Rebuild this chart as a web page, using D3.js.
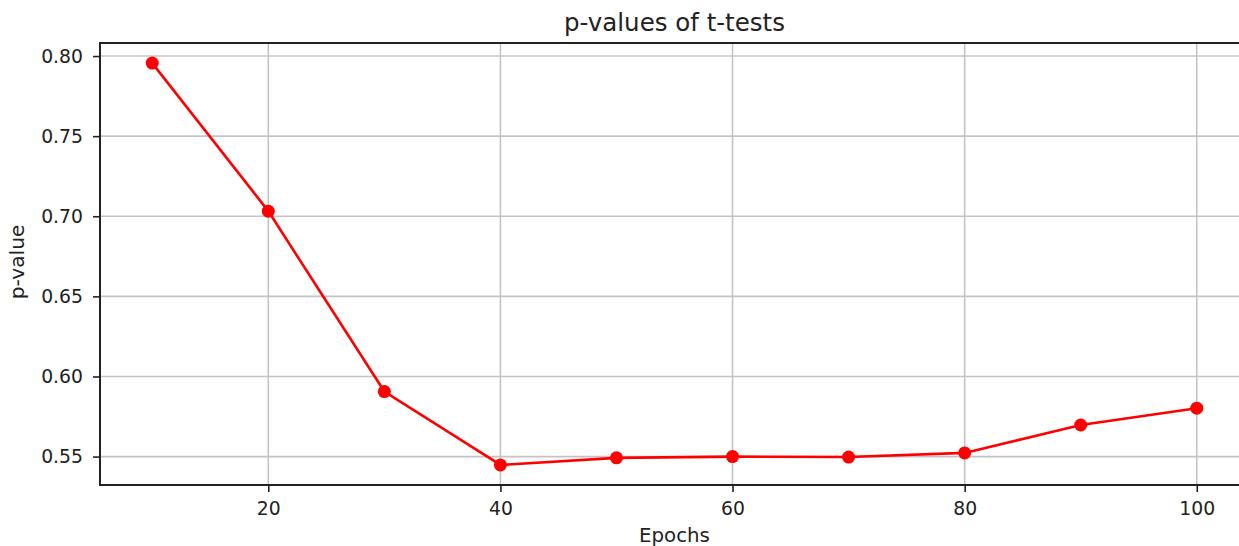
<!DOCTYPE html>
<html>
<head>
<meta charset="utf-8">
<script src="https://cdn.jsdelivr.net/npm/d3@7"></script>
<style>
	body { margin: 0; background: #fff; overflow: hidden; }
	svg { display: block; overflow: hidden; font-family: "DejaVu Sans", sans-serif; }
</style>
</head>
<body>
<script>
// values
const epochs = [10, 20, 30, 40, 50, 60, 70, 80, 90, 100];
const pValues = [0.7956, 0.7032, 0.5906, 0.5448, 0.5492, 0.5500, 0.5497, 0.5523, 0.5697, 0.5802];
const xTicks = [20, 40, 60, 80, 100];
const yTicks = [0.55, 0.60, 0.65, 0.70, 0.75, 0.80];

const WIDTH = 1239;
const HEIGHT = 546;
// the right side of the axes is cut off in the original picture
const margin = { top: 43, right: -10, bottom: 61, left: 100 };
const innerW = WIDTH - margin.left - margin.right;
const innerH = HEIGHT - margin.top - margin.bottom;

const svg = d3
	.select("body")
	.append("svg")
	.attr("width", WIDTH)
	.attr("height", HEIGHT);

// matplotlib-like 5% margins
const xPad = (d3.max(epochs) - d3.min(epochs)) * 0.05;
const yPad = (d3.max(pValues) - d3.min(pValues)) * 0.05;

const x = d3
	.scaleLinear()
	.domain([d3.min(epochs) - xPad, d3.max(epochs) + xPad])
	.range([0, innerW]);

const y = d3
	.scaleLinear()
	.domain([d3.min(pValues) - yPad, d3.max(pValues) + yPad])
	.range([innerH, 0]);

const g = svg.append("g").attr("transform", `translate(${margin.left},${margin.top})`);

// grid
g.append("g")
	.selectAll("line")
	.data(xTicks)
	.enter()
	.append("line")
	.attr("x1", (d) => x(d))
	.attr("x2", (d) => x(d))
	.attr("y1", 0)
	.attr("y2", innerH)
	.attr("stroke", "#c4c4c4")
	.attr("stroke-width", 1.6);

g.append("g")
	.selectAll("line")
	.data(yTicks)
	.enter()
	.append("line")
	.attr("x1", 0)
	.attr("x2", innerW)
	.attr("y1", (d) => y(d))
	.attr("y2", (d) => y(d))
	.attr("stroke", "#c4c4c4")
	.attr("stroke-width", 1.6);

// axes
const xAxis = g
	.append("g")
	.attr("transform", `translate(0,${innerH})`)
	.call(d3.axisBottom(x).tickValues(xTicks).tickFormat(d3.format("d")).tickSize(7).tickPadding(10));

const yAxis = g
	.append("g")
	.call(d3.axisLeft(y).tickValues(yTicks).tickFormat(d3.format(".2f")).tickSize(7).tickPadding(10));

[xAxis, yAxis].forEach((ax) => {
	ax.select(".domain").remove();
	ax.selectAll("line").attr("stroke", "#222").attr("stroke-width", 1.6);
	ax.selectAll("text").attr("font-size", 18.8).attr("fill", "#222").attr("font-family", "DejaVu Sans");
});

// spines: left, top, bottom (right one falls outside the picture)
const spines = [
	[0, 0, 0, innerH],
	[0, 0, innerW, 0],
	[0, innerH, innerW, innerH],
];
g.append("g")
	.selectAll("line")
	.data(spines)
	.enter()
	.append("line")
	.attr("x1", (d) => d[0])
	.attr("y1", (d) => d[1])
	.attr("x2", (d) => d[2])
	.attr("y2", (d) => d[3])
	.attr("stroke", "#222")
	.attr("stroke-width", 2)
	.attr("stroke-linecap", "square");

// line + markers
const line = d3
	.line()
	.x((d, i) => x(epochs[i]))
	.y((d) => y(d));

g.append("path")
	.datum(pValues)
	.attr("d", line)
	.attr("fill", "none")
	.attr("stroke", "#ff0000")
	.attr("stroke-width", 2.6);

g.selectAll("circle")
	.data(pValues)
	.enter()
	.append("circle")
	.attr("cx", (d, i) => x(epochs[i]))
	.attr("cy", (d) => y(d))
	.attr("r", 6.5)
	.attr("fill", "#ff0000");

// labels
svg.append("text")
	.attr("x", margin.left + innerW / 2)
	.attr("y", 31)
	.attr("text-anchor", "middle")
	.attr("font-size", 24.5)
	.attr("fill", "#222")
	.text("p-values of t-tests");

svg.append("text")
	.attr("x", margin.left + innerW / 2)
	.attr("y", 542)
	.attr("text-anchor", "middle")
	.attr("font-size", 19.8)
	.attr("fill", "#222")
	.text("Epochs");

svg.append("text")
	.attr("transform", `translate(24,262) rotate(-90)`)
	.attr("text-anchor", "middle")
	.attr("font-size", 20.2)
	.attr("fill", "#222")
	.text("p-value");
</script>
</body>
</html>
